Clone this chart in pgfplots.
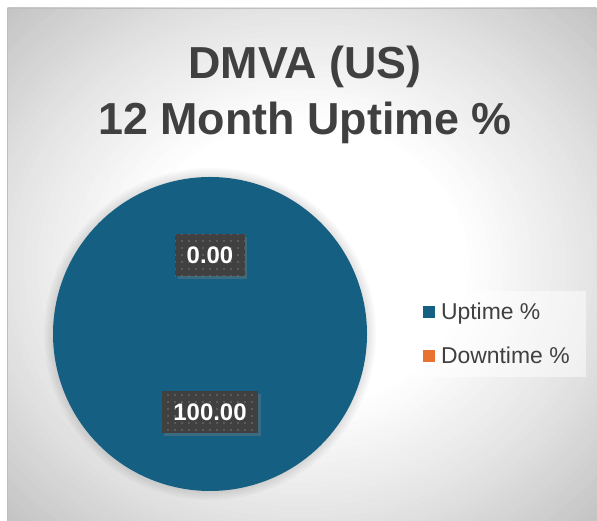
\documentclass[border=0pt]{standalone}
\usepackage{pgfplots}
\pgfplotsset{compat=1.18}
\usepackage{pgfplotstable}
\usepackage{fontspec}
\setmainfont{Liberation Sans}
\usetikzlibrary{patterns.meta,shadows}
\definecolor{pieblue}{HTML}{156082}
\definecolor{pieorange}{HTML}{E97132}
\definecolor{txt}{HTML}{404040}
\definecolor{lblbg}{HTML}{404040}
\definecolor{lbldot}{HTML}{666666}

\pgfplotstableread{
label value
Uptime 100.00
Downtime 0.00
}\piedata

\begin{document}
\begin{tikzpicture}[x=1bp,y=1bp]
\useasboundingbox (0,0) rectangle (597,521);
\fill[white] (0,0) rectangle (597,521);
\begin{scope}
\clip (7,0) rectangle (597,513);
\foreach \i in {60,59,...,1} {
  \pgfmathsetmacro\r{\i/60}
  \pgfmathsetmacro\g{\r<0.4 ? 0 : (\r<0.707 ? (\r-0.4)/0.307*10.5 : 10.5+(\r-0.707)/0.293*12.5)}
  \fill[black!\g!white] (302,256.5) ellipse [x radius={417.2*\r}, y radius={362.7*\r}];
}
\end{scope}
\draw[black!25, line width=0.8bp] (7,0) -- (7,513) -- (597,513);

\node[anchor=base, text=txt, font=\fontsize{45}{54}\selectfont\bfseries] at (305,442) {DMVA (US)};
\node[anchor=base, text=txt, font=\fontsize{45}{54}\selectfont\bfseries] at (305,386) {12 Month Uptime \%};

\pgfplotstablegetelem{0}{value}\of\piedata \let\vUp\pgfplotsretval
\pgfplotstablegetelem{1}{value}\of\piedata \let\vDown\pgfplotsretval
\pgfmathsetmacro\total{\vUp+\vDown}
\pgfmathsetmacro\aUp{360*(\vUp/\total)}
\pgfmathsetmacro\aDown{360*(\vDown/\total)}
\pgfmathsetmacro\sUp{90}
\pgfmathsetmacro\eUp{90-\aUp}
\pgfmathsetmacro\sDown{\eUp}
\pgfmathsetmacro\eDown{\eUp-\aDown}
\pgfmathsetmacro\mUp{(\sUp+\eUp)/2}
\pgfmathsetmacro\mDown{(\sDown+\eDown)/2}

\begin{axis}[
  at={(210bp,187bp)}, anchor=center,
  width=314bp, height=314bp, scale only axis,
  hide axis, clip=false,
  xmin=-1, xmax=1, ymin=-1, ymax=1,
  legend cell align=left,
  legend image code/.code={\fill[#1, fill opacity=1] (0bp,-6bp) rectangle (12bp,6bp);},
  legend style={at={(1.146,0.50)}, anchor=west, draw=none,
    fill=white, fill opacity=0.5, text opacity=1,
    font=\fontsize{23}{27}\selectfont, text=txt,
    inner xsep=10bp, inner ysep=10bp, row sep=22bp,
    nodes={inner xsep=6bp}},
]
\addlegendimage{fill=pieblue, draw=none}
\addlegendentry{Uptime \%}
\addlegendimage{fill=pieorange, draw=none}
\addlegendentry{Downtime \%}

\fill[black, opacity=0.025] (axis cs:0,0) circle [radius=166bp];
\fill[black, opacity=0.025] (axis cs:0,0) circle [radius=164bp];
\fill[black, opacity=0.025] (axis cs:0,0) circle [radius=162bp];
\fill[black, opacity=0.025] (axis cs:0,0) circle [radius=160bp];
\fill[black, opacity=0.025] (axis cs:0,0) circle [radius=158bp];
\addplot[forget plot, draw=none, fill=pieblue,
  domain=\eUp:\sUp, samples=241, variable=\t]
  ({cos(\t)}, {sin(\t)}) -- (axis cs:0,0) -- cycle;
\pgfmathparse{\aDown>0.01 ? 1 : 0}
\ifnum\pgfmathresult=1
\addplot[forget plot, draw=none, fill=pieorange, domain=\eDown:\sDown, samples=61, variable=\t]
  ({cos(\t)}, {sin(\t)}) -- (axis cs:0,0) -- cycle;
\fi

\tikzset{lbl/.style={
  drop shadow={shadow xshift=2.5bp, shadow yshift=-2.5bp, opacity=0.35},
  preaction={fill=lblbg},
  pattern={Dots[distance=7bp, radius=1.1bp]}, pattern color=lbldot,
  text=white, font=\fontsize{24}{28}\selectfont\bfseries,
  inner xsep=11.5bp, minimum height=42bp}}
\node[lbl] at (axis cs:{0.5*cos(\mDown)},{0.5*sin(\mDown)}) {\pgfmathprintnumber[fixed,fixed zerofill,precision=2,assume math mode=true]{\vDown}};
\node[lbl] at (axis cs:{0.5*cos(\mUp)},{0.5*sin(\mUp)}) {\pgfmathprintnumber[fixed,fixed zerofill,precision=2,assume math mode=true]{\vUp}};
\end{axis}
\end{tikzpicture}
\end{document}
